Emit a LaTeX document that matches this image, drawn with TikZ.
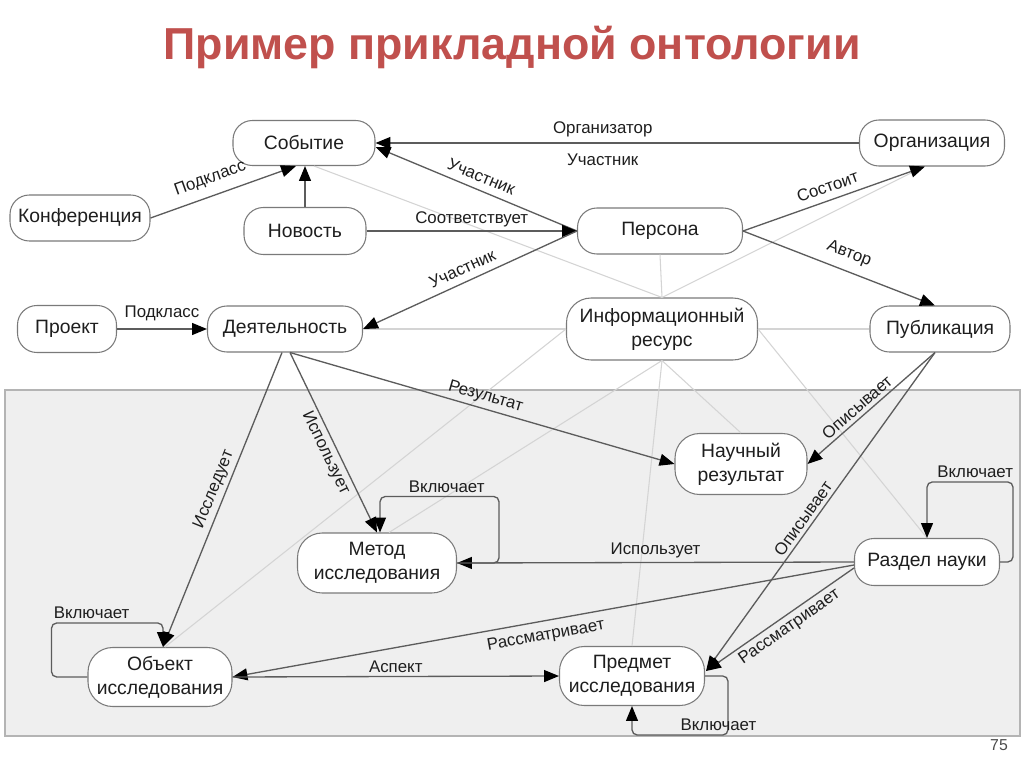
\documentclass[tikz,border=0pt]{standalone}
\usepackage{fontspec}
\setmainfont{Liberation Sans}
\usetikzlibrary{arrows.meta,calc}
\definecolor{titlered}{HTML}{C0504D}
\definecolor{edgecol}{HTML}{5C5C5C}
\definecolor{faint}{HTML}{D4D4D4}
\definecolor{panelfill}{HTML}{EFEFEF}
\definecolor{panelline}{HTML}{B4B4B4}
\definecolor{nodeline}{HTML}{7A7A7A}
\definecolor{txt}{HTML}{1E1E1E}
\begin{document}
\begin{tikzpicture}[x=0.02cm,y=-0.02cm,
  >={Triangle[length=8.5pt,width=6.8pt,color=black]},
  nd/.style={draw=nodeline, line width=0.6pt, fill=white, rounded corners=11pt,
    align=center, inner sep=0pt, font=\fontsize{11}{13.6}\selectfont, text=txt},
  tall/.style={rounded corners=14pt},
  rel/.style={draw=edgecol, line width=0.75pt, ->},
  relb/.style={draw=edgecol, line width=0.75pt, <-},
  lbl/.style={font=\fontsize{9.6}{11}\selectfont, text=txt, inner sep=2pt},
  faintln/.style={draw=faint, line width=0.6pt},
  loopln/.style={rel, rounded corners=3pt}]
\useasboundingbox (0,0) rectangle (1024,767);
\fill[white] (0,0) rectangle (1024,767);
\draw[draw=panelline, fill=panelfill, line width=0.8pt] (5,390) rectangle (1020,736);

\node[font=\fontsize{25.5}{30}\selectfont\bfseries, text=titlered] (title) at (512,47) {Пример прикладной онтологии};
\node[font=\fontsize{9}{10}\selectfont, text=black!70] (pg) at (999,745) {75};

% nodes
\node[nd, minimum width=2.84cm, minimum height=0.9cm] (sob) at (304,143) {Событие};
\node[nd, minimum width=2.8cm, minimum height=0.92cm] (konf) at (80,218) {Конференция};
\node[nd, minimum width=2.44cm, minimum height=0.94cm] (nov) at (305,231) {Новость};
\node[nd, minimum width=2.9cm, minimum height=0.92cm] (org) at (932,143) {Организация};
\node[nd, minimum width=3.3cm, minimum height=0.92cm] (per) at (660,231) {Персона};
\node[nd, minimum width=1.98cm, minimum height=0.94cm] (proj) at (67,329) {Проект};
\node[nd, minimum width=3.1cm, minimum height=0.92cm] (deyat) at (285,329) {Деятельность};
\node[nd, tall, minimum width=3.82cm, minimum height=1.24cm] (info) at (662,329) {Информационный\\ресурс};
\node[nd, minimum width=2.8cm, minimum height=0.92cm] (pub) at (940,329) {Публикация};
\node[nd, tall, minimum width=2.64cm, minimum height=1.22cm] (nauch) at (741,464) {Научный\\результат};
\node[nd, tall, minimum width=3.18cm, minimum height=1.2cm] (metod) at (377,563) {Метод\\исследования};
\node[nd, minimum width=2.9cm, minimum height=0.94cm] (razd) at (927,562) {Раздел науки};
\node[nd, tall, minimum width=2.88cm, minimum height=1.18cm] (obj) at (160,677) {Объект\\исследования};
\node[nd, tall, minimum width=2.9cm, minimum height=1.18cm] (pred) at (632,676) {Предмет\\исследования};

% faint links of the information resource
\draw[faintln] (info.north) -- ($(sob.south)+(10,0)$);
\draw[faintln] (info.north) -- (per.south);
\draw[faintln] (info.north) -- ($(org.south)+(-8,0)$);
\draw[faintln] (info.west) -- (deyat.east);
\draw[faintln] (info.east) -- (pub.west);
\draw[faintln] (info.west) -- ($(obj.north)+(5,0)$);
\draw[faintln] (info.south) -- ($(metod.north)+(12,0)$);
\draw[faintln] (info.south) -- (pred.north);
\draw[faintln] (info.south) -- (nauch.north);
\draw[faintln] (info.east) -- (razd.north);

% relations
\draw[rel] (konf.east) -- node[lbl, above=3pt, sloped, pos=0.45]{Подкласс} ($(sob.south)+(-8,0)$);
\draw[rel] (nov.north) -- (nov.north |- sob.south);
\draw[rel] (org.west) -- node[lbl, above=1pt, pos=0.53]{Организатор} node[lbl, below=4pt, pos=0.53]{Участник} (sob.east);
\draw[relb] ($(sob.east)+(0,4)$) -- node[lbl, above=2pt, sloped]{Участник} (per.west);
\draw[rel] (nov.east) -- node[lbl, above]{Соответствует} (per.west);
\draw[relb] (deyat.east) -- node[lbl, above=2pt, sloped, pos=0.49]{Участник} (per.west);
\draw[rel] (per.east) -- node[lbl, above=2pt, sloped, pos=0.49]{Состоит} ($(org.south)+(-7,0)$);
\draw[rel] (per.east) -- node[lbl, above=3pt, sloped, pos=0.52]{Автор} ($(pub.north)+(-5,0)$);
\draw[rel] (proj.east) -- node[lbl, above=2pt]{Подкласс} (deyat.west);
\draw[rel] ($(deyat.south)+(5,0)$) -- node[lbl, above, sloped, pos=0.5]{Результат} (nauch.west);
\draw[rel] ($(deyat.south)+(5,0)$) -- node[lbl, below, sloped, pos=0.53]{Использует} (metod.north);
\draw[relb] ($(obj.north)+(3,0)$) -- node[lbl, above, sloped, pos=0.52]{Исследует} ($(deyat.south)+(-3,0)$);
\draw[relb] (nauch.east) -- node[lbl, above, sloped, pos=0.44]{Описывает} ($(pub.south)+(-5,0)$);
\draw[relb] ($(pred.east)+(1,-5)$) -- node[lbl, above, sloped, pos=0.46]{Описывает} ($(pub.south)+(-5,0)$);
\draw[rel] (razd.west) -- node[lbl, above, pos=0.5]{Использует} (metod.east);
\draw[relb] (obj.east) -- node[lbl, below=2pt, sloped, pos=0.5]{Рассматривает} ($(razd.west)+(0,3)$);
\draw[relb] ($(pred.east)+(1,-5)$) -- node[lbl, below, sloped, pos=0.52]{Рассматривает} ($(razd.west)+(0,6)$);
\draw[rel] (obj.east) -- node[lbl, above, pos=0.5]{Аспект} (pred.west);

% self loops
\draw[loopln] (razd.east) -- ++(13,0) |- node[lbl, above, pos=0.72]{Включает} ($(razd.north)+(0,-56)$) -- (razd.north);
\draw[loopln] (metod.east) -- ++(42,0) |- node[lbl, above, pos=0.72]{Включает} ($(metod.north)+(3,-36)$) -- ($(metod.north)+(3,0)$);
\draw[loopln] (obj.west) -- ++(-36,0) |- node[lbl, above, pos=0.68]{Включает} ($(obj.north)+(3,-24)$) -- ($(obj.north)+(3,0)$);
\draw[loopln] (pred.east) -- ++(23,0) |- node[lbl, above, pos=0.55]{Включает} ($(pred.south)+(0,29)$) -- (pred.south);
\end{tikzpicture}
\end{document}
